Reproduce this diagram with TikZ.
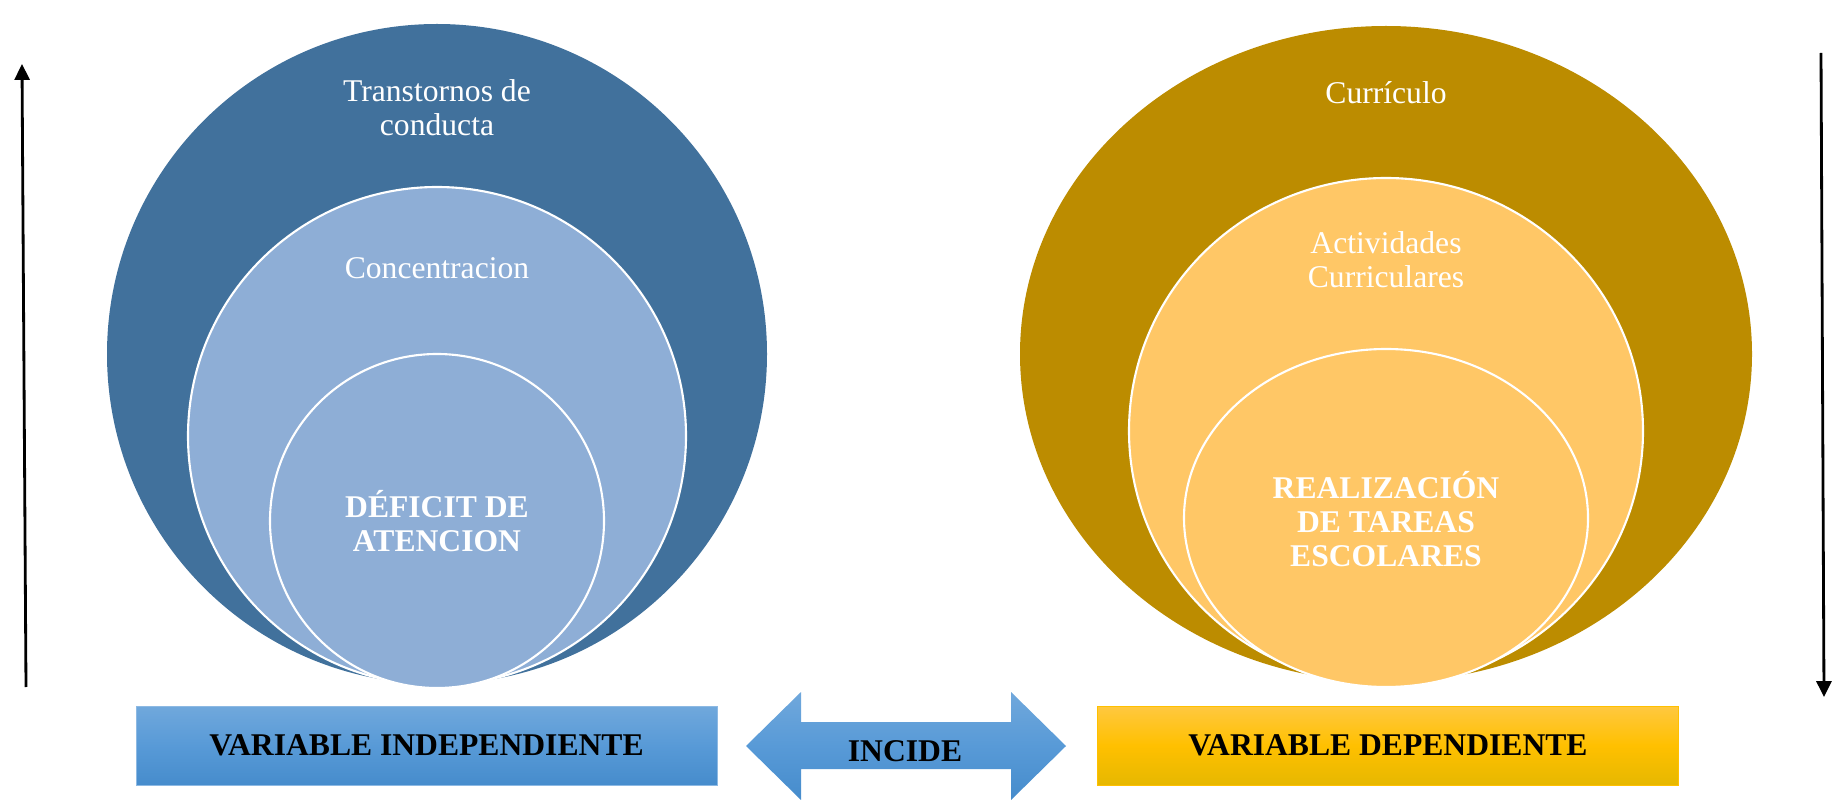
\documentclass[tikz,border=0pt]{standalone}
\usepackage{fontspec}
\setmainfont{Liberation Serif}
\usetikzlibrary{positioning,arrows.meta}

\definecolor{outerblue}{RGB}{65,113,156}
\definecolor{paleblue}{RGB}{142,174,214}
\definecolor{outergold}{RGB}{188,140,0}
\definecolor{palegold}{RGB}{255,199,102}
\definecolor{boxbluetop}{RGB}{112,168,220}
\definecolor{boxbluemid}{RGB}{88,154,215}
\definecolor{boxbluebot}{RGB}{70,140,204}
\definecolor{boxgoldtop}{RGB}{255,200,64}
\definecolor{boxgoldmid}{RGB}{255,192,0}
\definecolor{boxgoldbot}{RGB}{230,184,0}

\tikzset{
  ringtext/.style={text=white, align=center, font=\fontsize{18}{19.5}\selectfont},
  coretext/.style={ringtext, font=\fontsize{18}{19.5}\selectfont\bfseries},
  varbox/.style={minimum width=11.62cm, minimum height=1.58cm, inner sep=0pt,
    font=\fontsize{18}{20}\selectfont\bfseries, text=black},
  ring/.style={draw=white, line width=1.2pt},
  sidearrow/.style={line width=1.6pt, -{Triangle[width=8.5pt,length=9pt]}}
}

\begin{document}
\begin{tikzpicture}[x=0.02cm,y=-0.02cm]
\useasboundingbox (0,0) rectangle (1836,800);

% left circles
\fill[outerblue] (437,354) circle (330);
\fill[paleblue,ring] (437,436) circle (249);
\fill[paleblue,ring] (437,521) circle (167);
\node[ringtext] (transtornos) at (437,108) {Transtornos de\\conducta};
\node[ringtext] (concentracion) at (437,268) {Concentracion};
\node[coretext] (deficit) at (437,521) {DÉFICIT DE\\ATENCION};

% right circles
\fill[outergold] (1386,354) ellipse [x radius=366, y radius=328];
\fill[palegold,ring] (1386,431) ellipse [x radius=257, y radius=253];
\fill[palegold,ring] (1386,518) ellipse [x radius=202, y radius=169];
\node[ringtext] (curriculo) at (1386,93) {Currículo};
\node[ringtext] (actividades) at (1386,260) {Actividades\\Curriculares};
\node[coretext] (tareas) at (1386,519) {REALIZACIÓN\\DE TAREAS\\ESCOLARES};

% bottom boxes
\node[varbox, draw=boxbluetop!80!white, top color=boxbluetop, bottom color=boxbluebot, middle color=boxbluemid]
  (indep) at (426.5,745.5) {VARIABLE INDEPENDIENTE};
\node[varbox, draw=boxgoldmid, top color=boxgoldtop, bottom color=boxgoldbot, middle color=boxgoldmid]
  (dep) at (1388,745.5) {VARIABLE DEPENDIENTE};

% double arrow
\path[top color=boxbluetop, bottom color=boxbluebot, middle color=boxbluemid]
  (746,746) -- (801,692) -- (801,722) -- (1011,722) -- (1011,692) -- (1066,746)
  -- (1011,800) -- (1011,769) -- (801,769) -- (801,800) -- cycle;
\node[font=\fontsize{18}{20}\selectfont\bfseries] (incide) at (905,751) {INCIDE};

% side arrows
\coordinate (upfoot) at (26,687);
\coordinate (uphead) at (22,64);
\coordinate (downfoot) at (1821,53);
\coordinate (downhead) at (1824,697);
\draw[sidearrow] (upfoot) -- (uphead);
\draw[sidearrow] (downfoot) -- (downhead);

\end{tikzpicture}
\end{document}
